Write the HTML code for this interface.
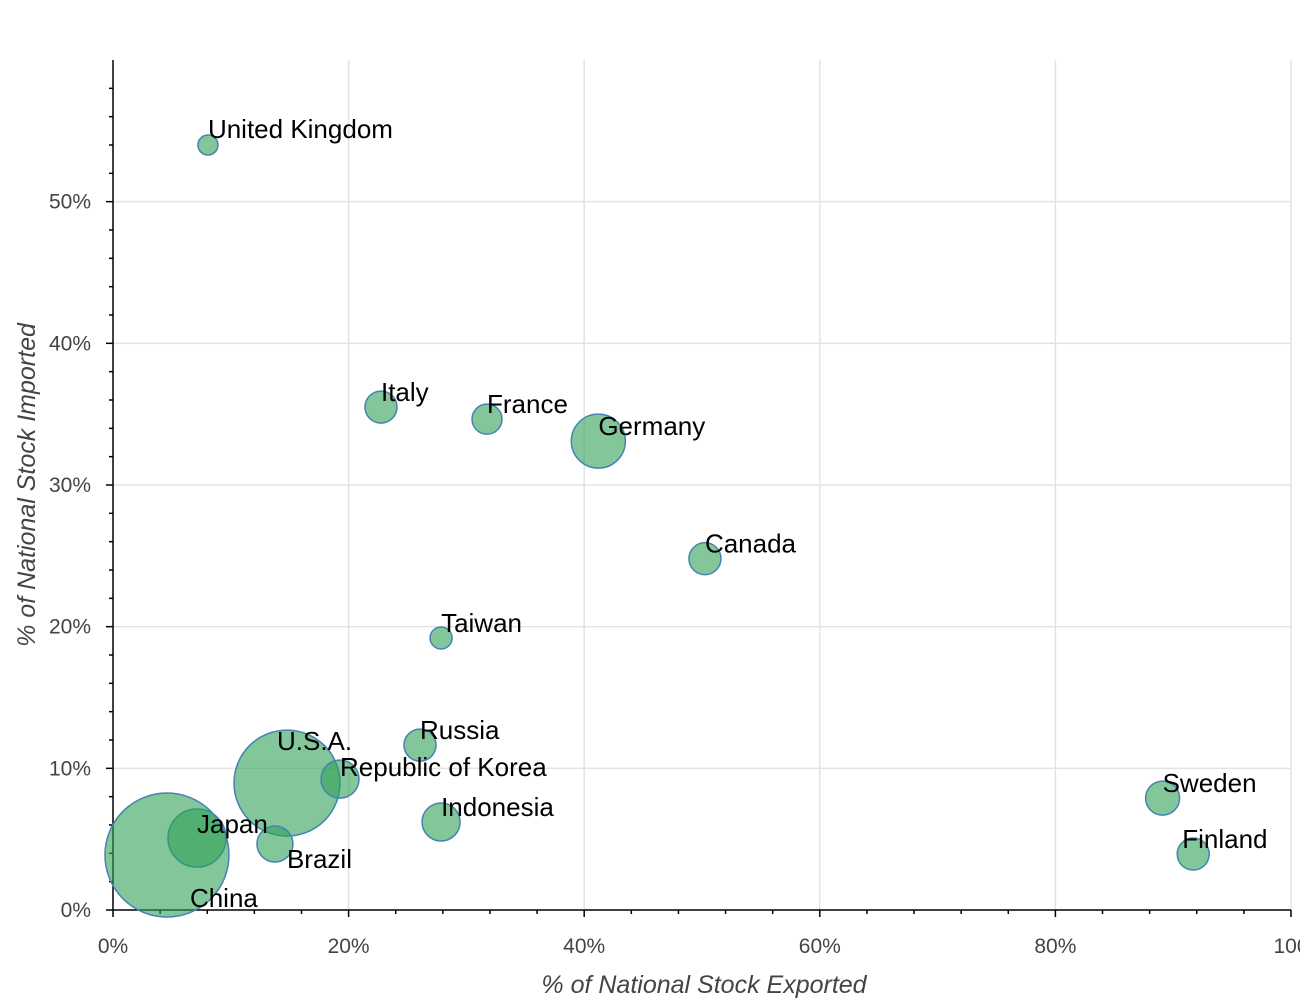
<!DOCTYPE html>
<html><head><meta charset="utf-8"><style>
body{margin:0;background:#fff;}
svg{display:block;font-family:"Liberation Sans",Helvetica,Arial,sans-serif;}
</style></head><body>
<svg id="chart" width="1300" height="1000"></svg>
<script>
const countries=["United Kingdom","Italy","France","Germany","Canada","Taiwan","Russia","U.S.A.","Republic of Korea","Indonesia","Japan","Brazil","China","Sweden","Finland"];
const exported=[8.06,22.75,31.75,41.2,50.25,27.85,26.06,14.77,19.27,27.85,7.13,13.75,4.58,89.1,91.7];
const imported=[54.0,35.5,34.65,33.1,24.8,19.2,11.64,8.96,9.24,6.21,5.08,4.66,3.88,7.9,3.95];
const sizes=[10,16,15,27,16,11,16,53,19,19,29,18,62,17,16];
const xTicks=[0,20,40,60,80,100];
const xTickLabels=["0%","20%","40%","60%","80%","100"];
const yTicks=[0,10,20,30,40,50];
const yTickLabels=["0%","10%","20%","30%","40%","50%"];
const labelDx=[0,0,0,0,0,0,0,-10,0,0,0,12,23,0,-11];
const labelDy=[-7,-6,-6,-6,-6,-6,-6,-33,-3,-6,-5,24,52,-6,-6];

const NS="http://www.w3.org/2000/svg";
const svg=document.getElementById('chart');
const L=113,R=1291,T=60,B=910;
const x=v=>L+(v/100)*(R-L);
const y=v=>B-(v/60)*(B-T);
function mk(tag,attrs,parent){const e=document.createElementNS(NS,tag);for(const k in attrs)e.setAttribute(k,attrs[k]);(parent||svg).appendChild(e);return e;}

const grid=mk('g',{});


xTicks.forEach(t=>{if(t>0)mk('line',{x1:x(t),x2:x(t),y1:T,y2:B,stroke:'#e3e3e3','stroke-width':1.5},grid);});
yTicks.forEach(t=>{if(t>0)mk('line',{x1:L,x2:R,y1:y(t),y2:y(t),stroke:'#e3e3e3','stroke-width':1.5},grid);});

const ax=mk('g',{stroke:'#000','stroke-width':1.5});


mk('line',{x1:L,x2:R,y1:B,y2:B},ax);
mk('line',{x1:L,x2:L,y1:T,y2:B},ax);
for(let v=0;v<=100;v+=4){const major=v%20===0;mk('line',{x1:x(v),x2:x(v),y1:B,y2:B+(major?7:4)},ax);}
for(let v=0;v<=58;v+=2){const major=v%10===0;mk('line',{x1:L,x2:L-(major?7:4),y1:y(v),y2:y(v)},ax);}

xTicks.forEach((t,i)=>{const e=mk('text',{x:x(t),y:B+43,'text-anchor':'middle','font-size':21,fill:'#444'});e.textContent=xTickLabels[i];

});
yTicks.forEach((t,i)=>{const e=mk('text',{x:L-22,y:y(t)+7,'text-anchor':'end','font-size':21,fill:'#444'});e.textContent=yTickLabels[i];

});

const xt=mk('text',{x:704,y:993,'text-anchor':'middle','font-size':25,'font-style':'italic',fill:'#444'});xt.textContent='% of National Stock Exported';


const yt=mk('text',{x:0,y:0,'text-anchor':'middle','font-size':25,'font-style':'italic',fill:'#444',transform:'translate(35,485) rotate(-90)'});yt.textContent='% of National Stock Imported';



const pts=mk('g',{});
countries.forEach((c,i)=>{const e=mk('circle',{cx:x(exported[i]),cy:y(imported[i]),r:sizes[i],fill:'rgb(46,160,86)','fill-opacity':0.6,stroke:'rgb(70,130,180)','stroke-width':1.5},pts);

});
countries.forEach((c,i)=>{const e=mk('text',{x:x(exported[i])+labelDx[i],y:y(imported[i])+labelDy[i],'font-size':26,fill:'#000'});e.textContent=c;

});
</script>
</body></html>
